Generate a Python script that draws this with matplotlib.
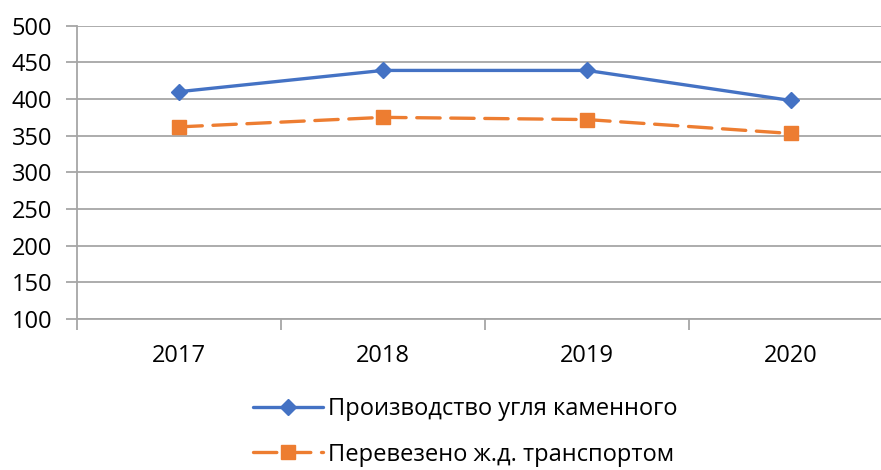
import matplotlib.pyplot as plt
import numpy as np

# data
years = ['2017', '2018', '2019', '2020']
coal_mined = [410, 439, 439, 398]
coal_rail = [362, 375, 372, 353]
labels = ['Производство угля каменного', 'Перевезено ж.д. транспортом']

plt.rcParams['font.family'] = ['Open Sans', 'DejaVu Sans']

fig = plt.figure(figsize=(8.81, 4.70), dpi=100)
# plot area runs a bit past the right edge, as in the reference
ax = fig.add_axes([77 / 881, 1 - 319 / 470, 816 / 881, (319 - 25.7) / 470])

x = np.arange(len(years))
ax.plot(x, coal_mined, '-', color='#4472C4', lw=2.4, marker='D', ms=8.5,
        label=labels[0], solid_capstyle='round')
ax.plot(x, coal_rail, color='#ED7D31', lw=2.4, marker='s', ms=10,
        dashes=(7, 3.2), dash_capstyle='round', label=labels[1])

# axes styling
ax.set_ylim(100, 500)
ax.set_yticks(range(100, 501, 50))
ax.set_xlim(-0.5, len(years) - 0.5)
ax.set_xticks(x)
ax.set_xticklabels(years)
ax.set_xticks(np.arange(-0.5, len(years)), minor=True)
ax.grid(axis='y', color='#a6a6a6', lw=1.3)
ax.set_axisbelow(True)
for s in ['top', 'right']:
    ax.spines[s].set_visible(False)
ax.spines['left'].set_color('#a6a6a6')
ax.spines['bottom'].set_color('#a6a6a6')
ax.spines['left'].set_linewidth(1.3)
ax.spines['bottom'].set_linewidth(1.3)
ax.tick_params(axis='y', length=8, width=1.3, color='#a6a6a6', labelsize=17, pad=10)
ax.tick_params(axis='x', which='major', length=0, labelsize=17, pad=18)
ax.tick_params(axis='x', which='minor', length=8, width=1.3, color='#a6a6a6')

# legend below the plot, one entry per row
fig.legend(loc='center', bbox_to_anchor=(0.528, 1 - 432 / 470), ncol=1,
           frameon=False, fontsize=17, handlelength=3.0, handletextpad=0.2,
           labelspacing=0.9, borderpad=0.2)

fig.savefig('out.png', dpi=100)
